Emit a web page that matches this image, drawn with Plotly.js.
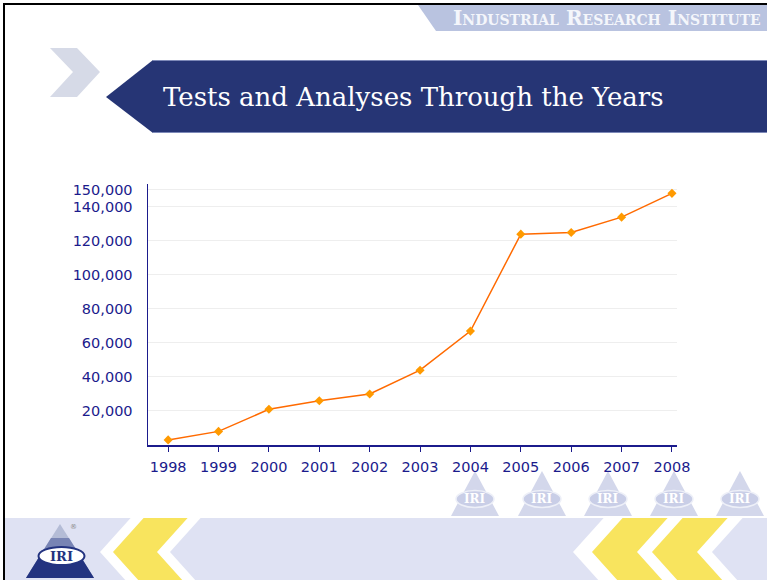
<!DOCTYPE html>
<html>
<head>
<meta charset="utf-8">
<script src="https://cdn.plot.ly/plotly-3.0.1.min.js"></script>
<style>
  html, body { margin: 0; padding: 0; background: #ffffff; }
  #chart { width: 767px; height: 580px; }
</style>
</head>
<body>
<div id="chart"></div>
<script>
// ---- data ----
const years = [1998, 1999, 2000, 2001, 2002, 2003, 2004, 2005, 2006, 2007, 2008];
const tests = [3000, 8000, 21000, 26000, 30000, 44000, 67000, 124000, 125000, 134000, 148000];
const yTickVals = [20000, 40000, 60000, 80000, 100000, 120000, 140000, 150000];
const yTickText = ["20,000", "40,000", "60,000", "80,000", "100,000", "120,000", "140,000", "150,000"];
const titleText = "Tests and Analyses Through the Years";
const brandText = "Industrial Research Institute";
const logoText = "IRI";

// ---- page geometry (pixels) ----
const W = 767, H = 580;
const M = { l: 148, r: 90, t: 184, b: 135 };
const PW = W - M.l - M.r, PH = H - M.t - M.b;
const X = px => (px - M.l) / PW;
const Y = py => (M.t + PH - py) / PH;

const shapes = [];
function poly(pts, fill) {
  shapes.push({
    type: 'path', xref: 'paper', yref: 'paper', layer: 'below',
    path: 'M' + pts.map(p => X(p[0]).toFixed(5) + ',' + Y(p[1]).toFixed(5)).join('L') + 'Z',
    fillcolor: fill, line: { width: 0 }
  });
}
function rect(x0, y0, x1, y1, fill) {
  shapes.push({ type: 'rect', xref: 'paper', yref: 'paper', layer: 'below',
    x0: X(x0), x1: X(x1), y0: Y(y1), y1: Y(y0), fillcolor: fill, line: { width: 0 } });
}
function ellipse(cx, cy, rx, ry, fill, stroke, sw) {
  shapes.push({ type: 'circle', xref: 'paper', yref: 'paper', layer: 'below',
    x0: X(cx - rx), x1: X(cx + rx), y0: Y(cy + ry), y1: Y(cy - ry),
    fillcolor: fill, line: { color: stroke, width: sw } });
}
function chevronLeft(T, w, fill) {
  const k = 0.9, top = 518, mid = 552, bot = 586, d = k * (mid - top);
  poly([[T + d, top], [T, mid], [T + d, bot], [T + w + d, bot], [T + w, mid], [T + w + d, top]], fill);
}

// top light band
poly([[418, 5], [767, 5], [767, 31], [436, 31]], '#b9c3e0');
// grey chevron
poly([[50, 48], [77, 48], [100, 72], [77, 97], [50, 97], [73, 72]], '#d6dae7');
// navy title banner
poly([[106, 97], [153, 60], [767, 60], [767, 133], [153, 133]], '#263575');
rect(153, 60, 767, 61, '#7d89b8');
rect(153, 132, 767, 133, '#7d89b8');
// bottom band
rect(5, 518, 767, 580, '#dfe2f3');
// watermark logos
const wmCenters = [475, 542, 608, 674, 740];
wmCenters.forEach(cx => {
  poly([[cx, 471], [cx - 24, 516], [cx + 24, 516]], '#d3d7eb');
  ellipse(cx, 499, 19, 8.5, '#c9cee7', '#eef0f8', 1.5);
});
// chevrons
chevronLeft(100, 70, '#ffffff');
chevronLeft(113, 44, '#f8e45e');
chevronLeft(573, 139, '#ffffff');
chevronLeft(592, 45, '#f8e45e');
chevronLeft(652, 45, '#f8e45e');
// IRI logo
poly([[60, 524], [26, 578], [94, 578]], '#b4bcd6');
poly([[51, 538], [69, 538], [94, 578], [26, 578]], '#7884b4');
poly([[44, 549], [76, 549], [94, 578], [26, 578]], '#233380');
ellipse(61.5, 556, 23, 9, '#ffffff', '#233380', 2);
// border
rect(3, 3, 767, 5, '#000000');
rect(3, 3, 5, 580, '#000000');

const annotations = [];
annotations.push({
  xref: 'paper', yref: 'paper', x: X(451), y: Y(18), xanchor: 'left', yanchor: 'middle',
  showarrow: false, text: brandText,
  font: { family: 'DejaVu Serif', size: 20, color: '#f4f6fb', variant: 'small-caps', weight: 'bold' }
});
wmCenters.forEach(cx => annotations.push({
  xref: 'paper', yref: 'paper', x: X(cx), y: Y(499), xanchor: 'center', yanchor: 'middle',
  showarrow: false, text: logoText,
  font: { family: 'DejaVu Serif', size: 12, color: '#ffffff', weight: 'bold' }
}));
annotations.push({
  xref: 'paper', yref: 'paper', x: X(61.5), y: Y(556), xanchor: 'center', yanchor: 'middle',
  showarrow: false, text: logoText,
  font: { family: 'DejaVu Serif', size: 13, color: '#233380', weight: 'bold' }
});
annotations.push({
  xref: 'paper', yref: 'paper', x: X(73), y: Y(527), xanchor: 'center', yanchor: 'middle',
  showarrow: false, text: '®',
  font: { family: 'DejaVu Sans', size: 7, color: '#888888' }
});

const navy = '#1b1b8c';
const trace = {
  x: years, y: tests, type: 'scatter', mode: 'lines+markers',
  line: { color: '#ff6a00', width: 1.5 },
  marker: { symbol: 'diamond', size: 7, color: '#ff9a00' },
  hoverinfo: 'x+y'
};

const layout = {
  width: W, height: H,
  margin: M,
  paper_bgcolor: 'rgba(0,0,0,0)',
  plot_bgcolor: 'rgba(0,0,0,0)',
  showlegend: false,
  title: {
    text: titleText, xref: 'container', yref: 'container',
    x: 163 / W, xanchor: 'left', y: 1 - 97 / H, yanchor: 'middle',
    font: { family: 'DejaVu Serif', size: 26, color: '#ffffff' }
  },
  xaxis: {
    range: [1997.6, 2008.1], tickvals: years, ticktext: years.map(String),
    showgrid: false, zeroline: false,
    showline: true, linecolor: navy, linewidth: 1.5,
    ticks: 'outside', ticklen: 5, tickcolor: navy, tickwidth: 1,
    ticklabelstandoff: 3,
    tickfont: { family: 'DejaVu Sans', size: 14.5, color: navy }
  },
  yaxis: {
    range: [0, 153500], tickvals: yTickVals, ticktext: yTickText,
    showgrid: true, gridcolor: '#eeeeee', gridwidth: 1, zeroline: false,
    showline: true, linecolor: navy, linewidth: 1.5,
    ticks: '', ticklabelstandoff: 11,
    tickfont: { family: 'DejaVu Sans', size: 14.5, color: navy }
  },
  shapes: shapes,
  annotations: annotations
};

Plotly.newPlot('chart', [trace], layout, { displayModeBar: false, staticPlot: true });
</script>
</body>
</html>
